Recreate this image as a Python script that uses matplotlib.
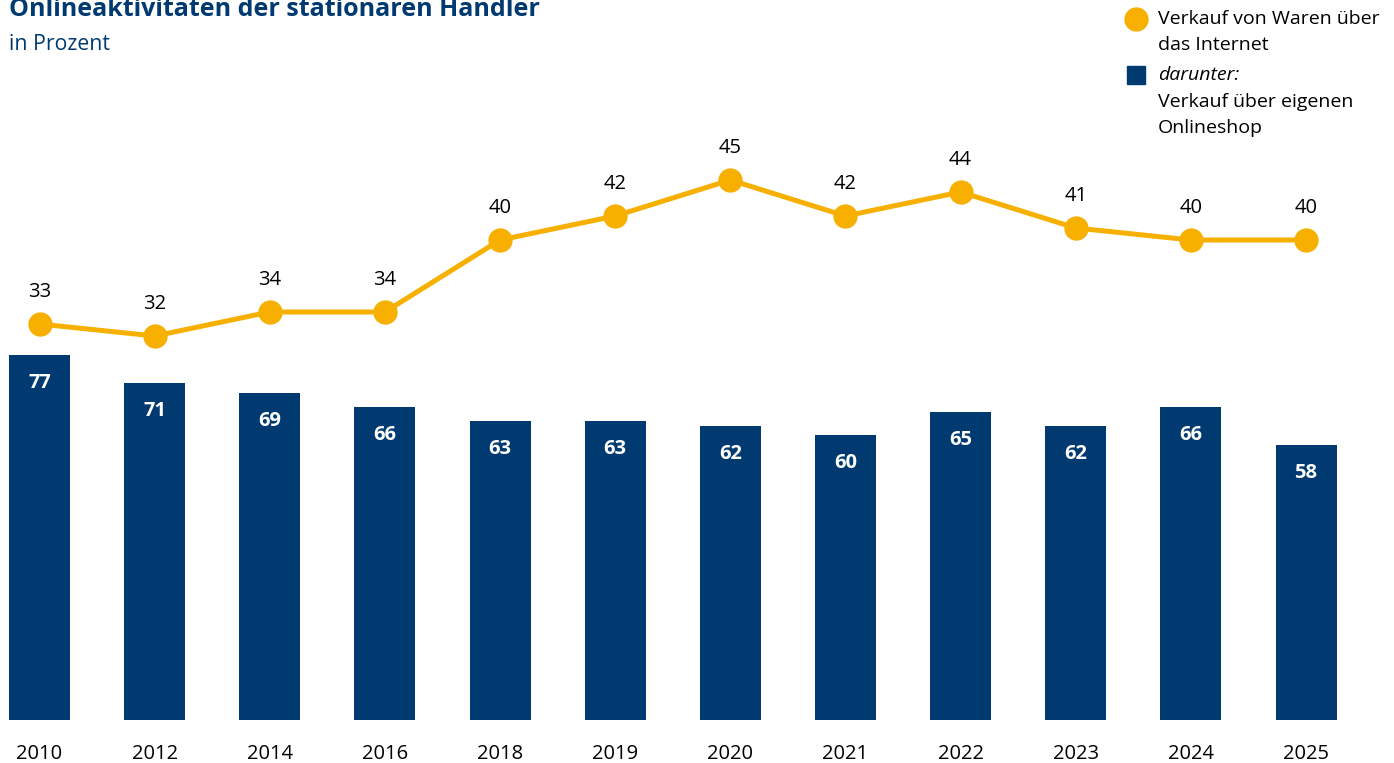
import matplotlib
matplotlib.use('Agg')
import matplotlib.pyplot as plt
from matplotlib.lines import Line2D
from matplotlib.patches import Rectangle
import numpy as np

years = ['2010', '2012', '2014', '2016', '2018', '2019',
         '2020', '2021', '2022', '2023', '2024', '2025']
# Verkauf von Waren über das Internet
internet_sales = [33, 32, 34, 34, 40, 42, 45, 42, 44, 41, 40, 40]
# darunter: Verkauf über eigenen Onlineshop
own_shop = [77, 71, 69, 66, 63, 63, 62, 60, 65, 62, 66, 58]

NAVY = '#003a70'
GOLD = '#f7b000'
INK = '#000000'

plt.rcParams['font.family'] = ['Open Sans', 'DejaVu Sans']

W, H = 1394, 763
fig = plt.figure(figsize=(W / 100, H / 100), dpi=100)


def fx(px):
    return px / W


def fy(py):
    return 1 - py / H


# bars and line share the baseline but use different scales
ax = fig.add_axes([0, fy(720), 1, 720 / H])
x = np.arange(len(years))
ax.bar(x, own_shop, width=0.53, color=NAVY)
step = 115.14
ax.set_xlim(-39.5 / step, (W - 39.5) / step)
ax.set_ylim(0, 720 / 4.745)
for xi, v in zip(x, own_shop):
    ax.annotate(str(v), (xi, v), xytext=(0, -28), textcoords='offset pixels',
                ha='center', va='center', color='white', fontweight='bold',
                fontsize=14.5)

ax.set_xticks(x, years)
ax.tick_params(axis='x', length=0, pad=17, labelsize=14.5, labelcolor=INK)
ax.set_yticks([])
for s in ax.spines.values():
    s.set_visible(False)

ax2 = ax.twinx()
ax2.plot(x, internet_sales, color=GOLD, lw=3.6, marker='o', ms=16.5,
         clip_on=False, zorder=3)
ax2.set_ylim(0, 60)
ax2.set_yticks([])
for s in ax2.spines.values():
    s.set_visible(False)
for xi, v in zip(x, internet_sales):
    ax2.annotate(str(v), (xi, v), xytext=(0, 32), textcoords='offset pixels',
                 ha='center', va='center', color=INK, fontsize=14.5)

# title block (top edge runs into the frame)
fig.text(fx(9), fy(16), 'Onlineaktivitäten der stationären Händler',
         fontsize=18, fontweight='bold', color=NAVY, va='baseline')
fig.text(fx(9), fy(50), 'in Prozent', fontsize=15.3, color=NAVY, va='baseline')

# legend
fig.add_artist(Line2D([fx(1136)], [fy(19)], marker='o', ms=16.5, color=GOLD,
                      lw=0, transform=fig.transFigure))
fig.add_artist(Rectangle((fx(1127), fy(84)), fx(18), 18 / H, color=NAVY,
                         transform=fig.transFigure))
leg_kw = dict(fontsize=14, color=INK, va='center')
fig.text(fx(1158), fy(19), 'Verkauf von Waren über', **leg_kw)
fig.text(fx(1158), fy(45), 'das Internet', **leg_kw)
fig.text(fx(1158), fy(75), 'darunter:', style='italic', **leg_kw)
fig.text(fx(1158), fy(102), 'Verkauf über eigenen', **leg_kw)
fig.text(fx(1158), fy(128), 'Onlineshop', **leg_kw)

fig.savefig('out.png', dpi=100)
